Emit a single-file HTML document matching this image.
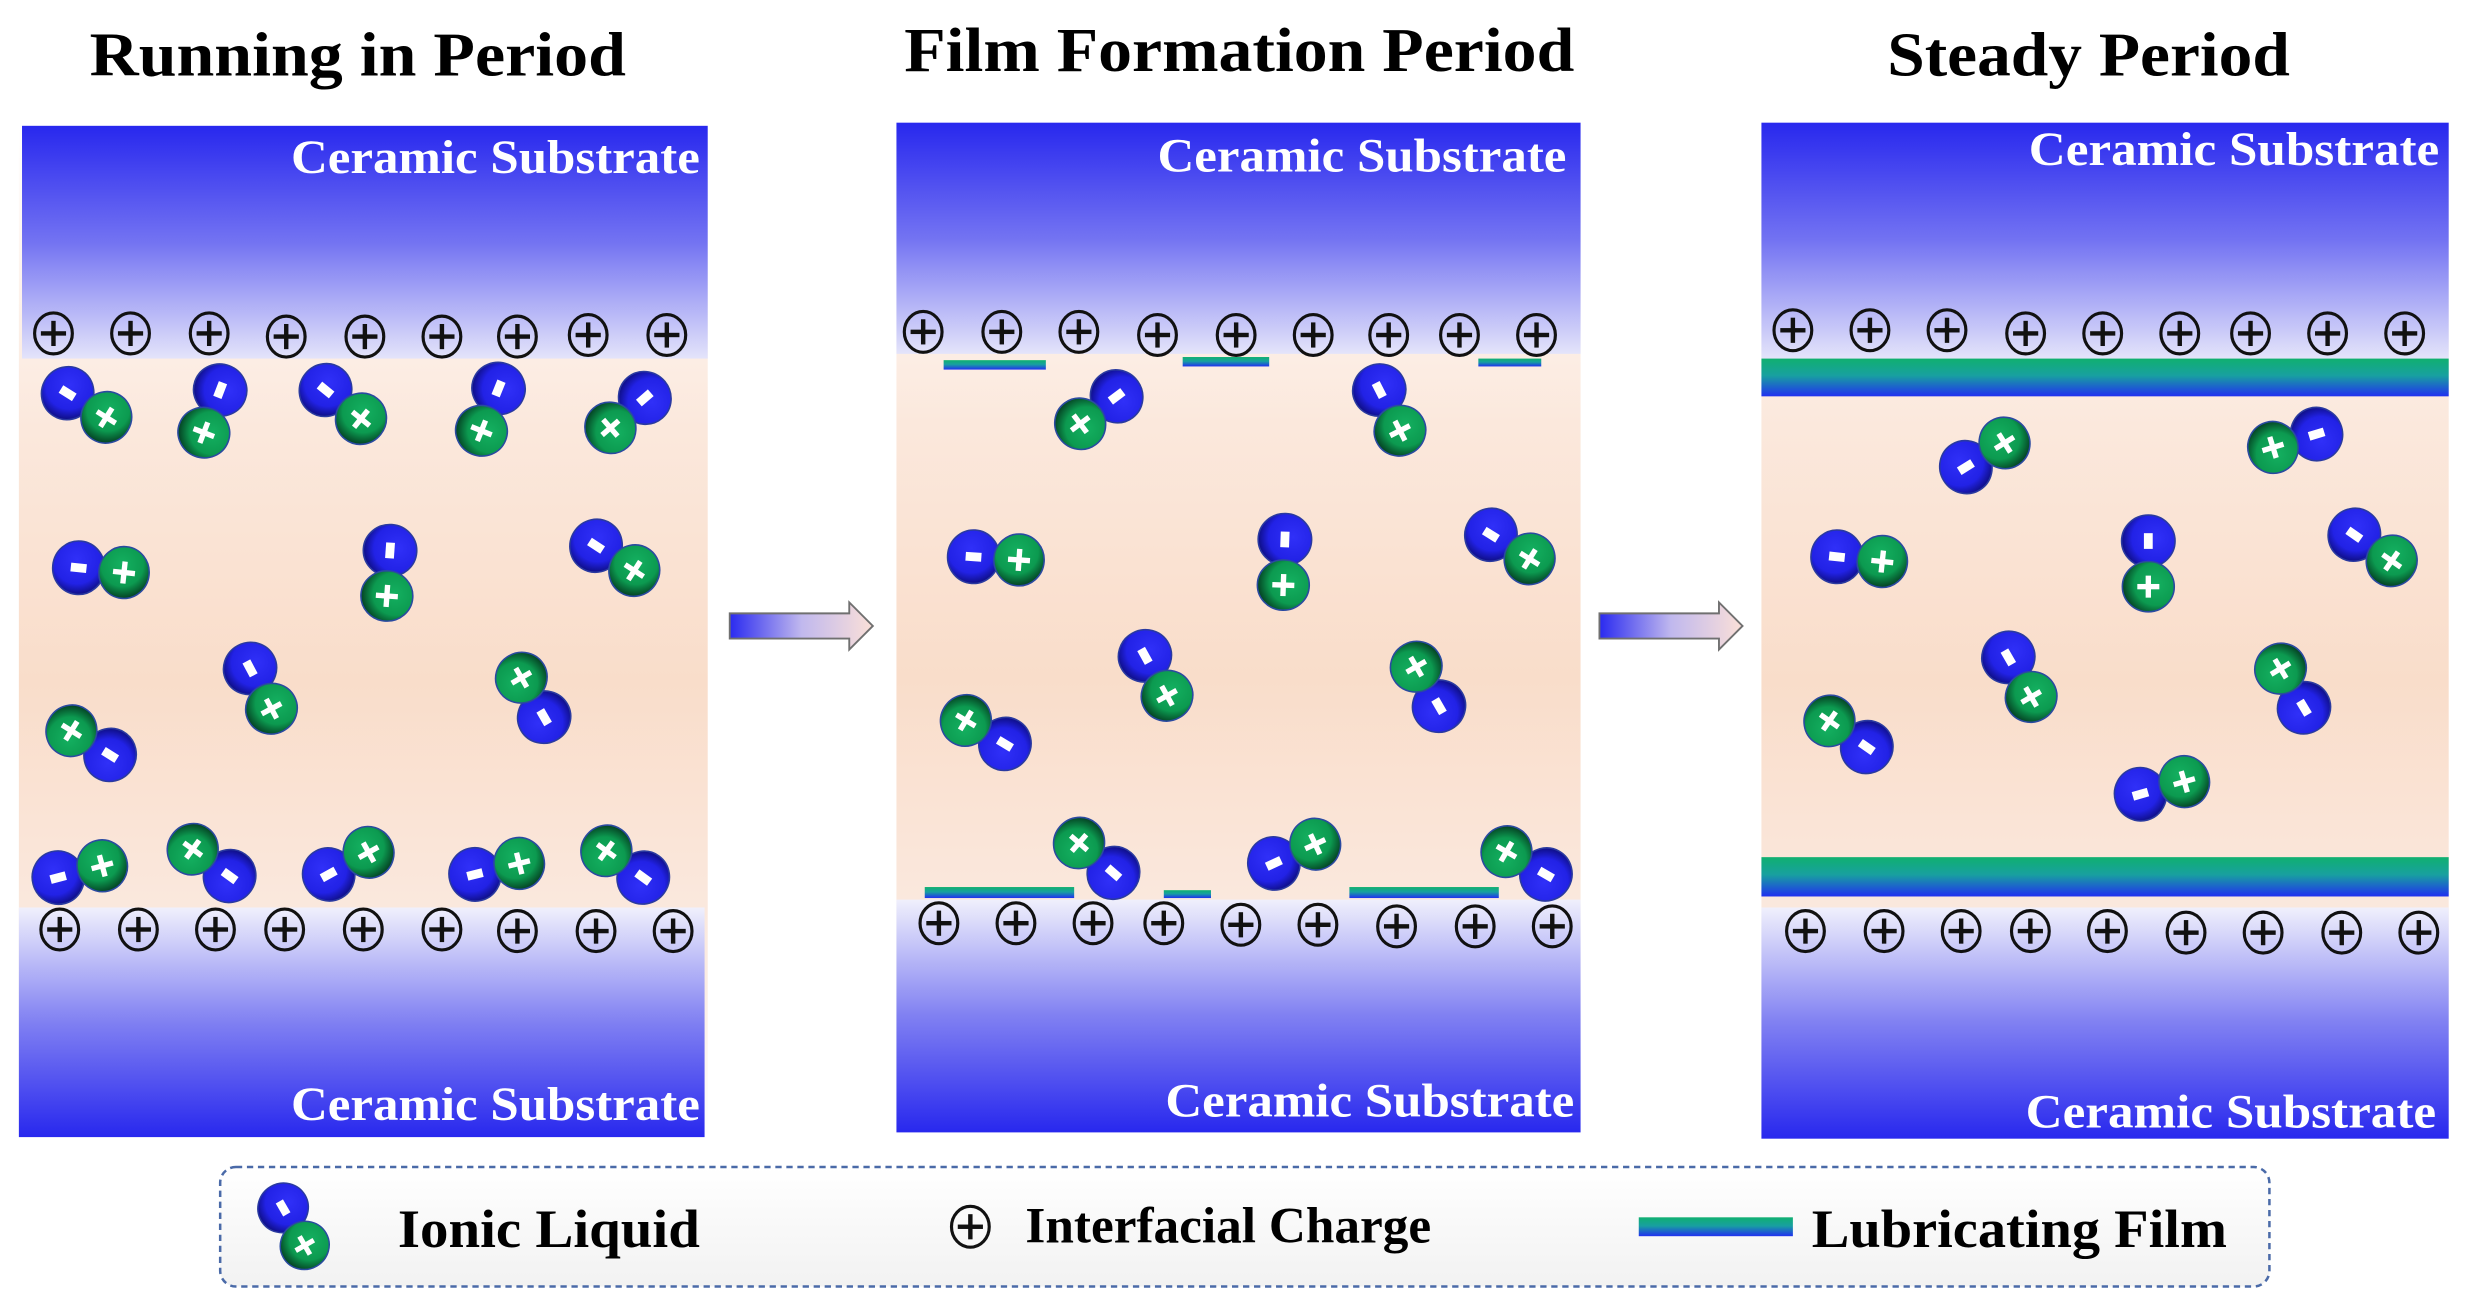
<!DOCTYPE html>
<html><head><meta charset="utf-8"><style>
html,body{margin:0;padding:0;background:#fff;}
svg{display:block;}
text{font-family:"Liberation Serif",serif;font-weight:bold;}
</style></head><body>
<svg width="2466" height="1312" viewBox="0 0 1568 834.2" preserveAspectRatio="none" xmlns="http://www.w3.org/2000/svg">
<defs>
<linearGradient id="topS" x1="0" y1="0" x2="0" y2="1"><stop offset="0" stop-color="#2828ee"/><stop offset="0.5" stop-color="#7373f2"/><stop offset="1" stop-color="#e4e4fa"/></linearGradient>
<linearGradient id="botS" x1="0" y1="0" x2="0" y2="1"><stop offset="0" stop-color="#f0f0fc"/><stop offset="0.5" stop-color="#8080f2"/><stop offset="1" stop-color="#2828ee"/></linearGradient>
<linearGradient id="mid" x1="0" y1="0" x2="0" y2="1"><stop offset="0" stop-color="#ffffff"/><stop offset="0.3" stop-color="#fbe8dc"/><stop offset="0.55" stop-color="#f9ddca"/><stop offset="0.85" stop-color="#fbece4"/><stop offset="1" stop-color="#ffffff"/></linearGradient>
<linearGradient id="film" x1="0" y1="0" x2="0" y2="1"><stop offset="0" stop-color="#10b070"/><stop offset="0.45" stop-color="#18a0a0"/><stop offset="1" stop-color="#2030f0"/></linearGradient>
<linearGradient id="arr" x1="0" y1="0" x2="1" y2="0"><stop offset="0" stop-color="#2a2af0"/><stop offset="0.5" stop-color="#c0b8ee"/><stop offset="1" stop-color="#fbe0d8"/></linearGradient>
<linearGradient id="leg" x1="0" y1="0" x2="0" y2="1"><stop offset="0" stop-color="#ffffff"/><stop offset="1" stop-color="#f2f2f2"/></linearGradient>
<radialGradient id="bb" cx="0.45" cy="0.35" r="0.7"><stop offset="0" stop-color="#3030f8"/><stop offset="0.65" stop-color="#2222e6"/><stop offset="1" stop-color="#0a0a70"/></radialGradient>
<radialGradient id="gb" cx="0.45" cy="0.35" r="0.7"><stop offset="0" stop-color="#14b060"/><stop offset="0.6" stop-color="#0c9a50"/><stop offset="1" stop-color="#03301a"/></radialGradient>
<g id="ion">
<ellipse cx="0" cy="0" rx="16.5" ry="17" fill="url(#bb)" stroke="#2a3aa0" stroke-width="1"/>
<rect x="-5" y="-2.8" width="10" height="5.6" fill="#fff"/>
<ellipse cx="29" cy="0" rx="16" ry="16.5" fill="url(#gb)" stroke="#2a4aa0" stroke-width="1"/>
<rect x="22" y="-1.7" width="14" height="3.4" fill="#fff"/>
<rect x="27.3" y="-7" width="3.4" height="14" fill="#fff"/>
</g>
<g id="chg">
<ellipse cx="0" cy="0" rx="12" ry="13" fill="none" stroke="#111" stroke-width="2"/>
<rect x="-8" y="-1.4" width="16" height="2.8" fill="#111"/>
<rect x="-1.4" y="-8" width="2.8" height="16" fill="#111"/>
</g>
</defs>

<text x="57" y="48" font-size="40" textLength="341" lengthAdjust="spacingAndGlyphs">Running in Period</text>
<text x="575" y="45" font-size="40" textLength="426" lengthAdjust="spacingAndGlyphs">Film Formation Period</text>
<text x="1200" y="48" font-size="40" textLength="256" lengthAdjust="spacingAndGlyphs">Steady Period</text>

<rect x="12" y="80" width="438" height="643" fill="url(#mid)"/>
<rect x="14" y="80" width="436" height="148" fill="url(#topS)"/>
<rect x="12" y="577" width="436" height="146" fill="url(#botS)"/>
<text x="185" y="110" font-size="30" fill="#fff" textLength="260" lengthAdjust="spacingAndGlyphs">Ceramic Substrate</text>
<text x="185" y="712" font-size="30" fill="#fff" textLength="260" lengthAdjust="spacingAndGlyphs">Ceramic Substrate</text>

<rect x="570" y="78" width="435" height="642" fill="url(#mid)"/>
<rect x="570" y="78" width="435" height="147" fill="url(#topS)"/>
<rect x="570" y="572" width="435" height="148" fill="url(#botS)"/>
<text x="736" y="109" font-size="30" fill="#fff" textLength="260" lengthAdjust="spacingAndGlyphs">Ceramic Substrate</text>
<text x="741" y="710" font-size="30" fill="#fff" textLength="260" lengthAdjust="spacingAndGlyphs">Ceramic Substrate</text>
<rect x="600" y="229" width="65" height="6" fill="url(#film)"/>
<rect x="752" y="227" width="55" height="6" fill="url(#film)"/>
<rect x="940" y="228" width="40" height="5" fill="url(#film)"/>
<rect x="588" y="564" width="95" height="7" fill="url(#film)"/>
<rect x="740" y="566" width="30" height="5" fill="url(#film)"/>
<rect x="858" y="564" width="95" height="7" fill="url(#film)"/>

<rect x="1120" y="78" width="437" height="646" fill="url(#mid)"/>
<rect x="1120" y="78" width="437" height="150" fill="url(#topS)"/>
<rect x="1120" y="577" width="437" height="147" fill="url(#botS)"/>
<rect x="1120" y="228" width="437" height="24" fill="url(#film)"/>
<rect x="1120" y="545" width="437" height="25" fill="url(#film)"/>
<text x="1290" y="105" font-size="30" fill="#fff" textLength="261" lengthAdjust="spacingAndGlyphs">Ceramic Substrate</text>
<text x="1288" y="717" font-size="30" fill="#fff" textLength="261" lengthAdjust="spacingAndGlyphs">Ceramic Substrate</text>

<polygon points="464,390 540,390 540,383 555,398 540,413 540,406 464,406" fill="url(#arr)" stroke="#707070" stroke-width="1.2"/>
<polygon points="1017,390 1093,390 1093,383 1108,398 1093,413 1093,406 1017,406" fill="url(#arr)" stroke="#707070" stroke-width="1.2"/>

<g>
<use href="#chg" x="34" y="212"/><use href="#chg" x="83" y="212"/><use href="#chg" x="133" y="212"/><use href="#chg" x="182" y="214"/><use href="#chg" x="232" y="214"/><use href="#chg" x="281" y="214"/><use href="#chg" x="329" y="214"/><use href="#chg" x="374" y="213"/><use href="#chg" x="424" y="213"/>
<use href="#chg" x="38" y="591"/><use href="#chg" x="88" y="591"/><use href="#chg" x="137" y="591"/><use href="#chg" x="181" y="591"/><use href="#chg" x="231" y="591"/><use href="#chg" x="281" y="591"/><use href="#chg" x="329" y="592"/><use href="#chg" x="379" y="592"/><use href="#chg" x="428" y="592"/>
<use href="#chg" x="587" y="211"/><use href="#chg" x="637" y="211"/><use href="#chg" x="686" y="211"/><use href="#chg" x="736" y="213"/><use href="#chg" x="786" y="213"/><use href="#chg" x="835" y="213"/><use href="#chg" x="883" y="213"/><use href="#chg" x="928" y="213"/><use href="#chg" x="977" y="213"/>
<use href="#chg" x="597" y="587"/><use href="#chg" x="646" y="587"/><use href="#chg" x="695" y="587"/><use href="#chg" x="740" y="587"/><use href="#chg" x="789" y="588"/><use href="#chg" x="838" y="588"/><use href="#chg" x="888" y="589"/><use href="#chg" x="938" y="589"/><use href="#chg" x="987" y="589"/>
<use href="#chg" x="1140" y="210"/><use href="#chg" x="1189" y="210"/><use href="#chg" x="1238" y="210"/><use href="#chg" x="1288" y="212"/><use href="#chg" x="1337" y="212"/><use href="#chg" x="1386" y="212"/><use href="#chg" x="1431" y="212"/><use href="#chg" x="1480" y="212"/><use href="#chg" x="1529" y="212"/>
<use href="#chg" x="1148" y="592"/><use href="#chg" x="1198" y="592"/><use href="#chg" x="1247" y="592"/><use href="#chg" x="1291" y="592"/><use href="#chg" x="1340" y="592"/><use href="#chg" x="1390" y="593"/><use href="#chg" x="1439" y="593"/><use href="#chg" x="1489" y="593"/><use href="#chg" x="1538" y="593"/>
</g>

<use href="#ion" transform="translate(43,250) rotate(32)"/>
<use href="#ion" transform="translate(140,248) rotate(111)"/>
<use href="#ion" transform="translate(207,248) rotate(39)"/>
<use href="#ion" transform="translate(317,247) rotate(112)"/>
<use href="#ion" transform="translate(410,253) rotate(139)"/>
<use href="#ion" transform="translate(50,361) rotate(6)"/>
<use href="#ion" transform="translate(248,350) rotate(94)"/>
<use href="#ion" transform="translate(379,347) rotate(33)"/>
<use href="#ion" transform="translate(159,425) rotate(62)"/>
<use href="#ion" transform="translate(346,456) rotate(-120)"/>
<use href="#ion" transform="translate(70,480) rotate(-148)"/>
<use href="#ion" transform="translate(37,558) rotate(-15)"/>
<use href="#ion" transform="translate(146,557) rotate(-144)"/>
<use href="#ion" transform="translate(209,556) rotate(-29)"/>
<use href="#ion" transform="translate(302,556) rotate(-14)"/>
<use href="#ion" transform="translate(409,558) rotate(-144)"/>
<use href="#ion" transform="translate(710,252) rotate(143)"/>
<use href="#ion" transform="translate(877,248) rotate(63)"/>
<use href="#ion" transform="translate(619,354) rotate(4)"/>
<use href="#ion" transform="translate(817,343) rotate(92)"/>
<use href="#ion" transform="translate(948,340) rotate(32)"/>
<use href="#ion" transform="translate(728,417) rotate(61)"/>
<use href="#ion" transform="translate(915,449) rotate(-120)"/>
<use href="#ion" transform="translate(639,473) rotate(-149)"/>
<use href="#ion" transform="translate(708,555) rotate(-139)"/>
<use href="#ion" transform="translate(810,549) rotate(-25)"/>
<use href="#ion" transform="translate(983,556) rotate(-150)"/>
<use href="#ion" transform="translate(1250,297) rotate(-32)"/>
<use href="#ion" transform="translate(1473,276) rotate(163)"/>
<use href="#ion" transform="translate(1168,354) rotate(6)"/>
<use href="#ion" transform="translate(1366,344) rotate(90)"/>
<use href="#ion" transform="translate(1497,340) rotate(35)"/>
<use href="#ion" transform="translate(1277,418) rotate(60)"/>
<use href="#ion" transform="translate(1465,450) rotate(-121)"/>
<use href="#ion" transform="translate(1187,475) rotate(-145)"/>
<use href="#ion" transform="translate(1361,505) rotate(-16)"/>

<rect x="140" y="742" width="1303" height="76" rx="10" ry="10" fill="url(#leg)" stroke="#4a6aa8" stroke-width="1.6" stroke-dasharray="4,3"/>
<use href="#ion" transform="translate(180,768) rotate(60) scale(0.95)"/>
<text x="253" y="793" font-size="34" textLength="192" lengthAdjust="spacingAndGlyphs">Ionic Liquid</text>
<use href="#chg" x="617" y="780"/>
<text x="652" y="790" font-size="32" textLength="258" lengthAdjust="spacingAndGlyphs">Interfacial Charge</text>
<rect x="1042" y="774" width="98" height="12" fill="url(#film)"/>
<text x="1152" y="793" font-size="34" textLength="264" lengthAdjust="spacingAndGlyphs">Lubricating Film</text>
</svg>
</body></html>
